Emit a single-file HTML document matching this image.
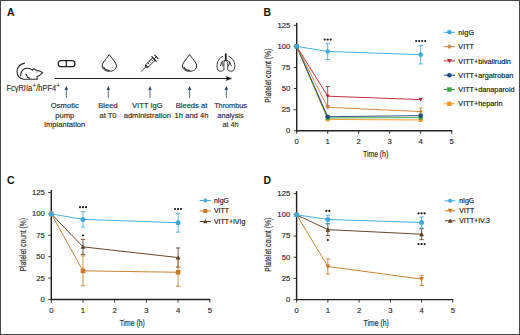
<!DOCTYPE html>
<html><head><meta charset="utf-8"><style>
html,body{margin:0;padding:0;background:#fff;}
body{width:520px;height:335px;overflow:hidden;position:relative;}
svg{position:absolute;left:0;top:0;font-family:"Liberation Sans", sans-serif;}
.frame{position:absolute;left:0;top:0;width:518px;height:333px;border:1px solid #4a4a4a;}
</style></head><body>
<svg width="520" height="335" viewBox="0 0 520 335">
<text x="0" y="0" font-size="11.6" font-weight="bold" fill="#111" transform="translate(7,16.3) scale(0.9,1)">A</text>
<line x1="54.5" y1="78.5" x2="229" y2="78.5" stroke="#222" stroke-width="1.2"/>
<path d="M225.6,75.9 L232.3,78.5 L225.6,81.1 L227,78.5 Z" fill="#1a1a1a"/>
<line x1="66.3" y1="89" x2="66.3" y2="97.9" stroke="#34506f" stroke-width="0.85"/>
<path d="M64.5,90.2 L66.3,86.1 L68.1,90.2 L66.3,89.4 Z" fill="#1f3a5a"/>
<line x1="108.3" y1="89" x2="108.3" y2="97.9" stroke="#34506f" stroke-width="0.85"/>
<path d="M106.5,90.2 L108.3,86.1 L110.1,90.2 L108.3,89.4 Z" fill="#1f3a5a"/>
<line x1="150" y1="89" x2="150" y2="97.9" stroke="#34506f" stroke-width="0.85"/>
<path d="M148.2,90.2 L150,86.1 L151.8,90.2 L150,89.4 Z" fill="#1f3a5a"/>
<line x1="189.6" y1="89" x2="189.6" y2="97.9" stroke="#34506f" stroke-width="0.85"/>
<path d="M187.79999999999998,90.2 L189.6,86.1 L191.4,90.2 L189.6,89.4 Z" fill="#1f3a5a"/>
<line x1="226.3" y1="89" x2="226.3" y2="97.9" stroke="#34506f" stroke-width="0.85"/>
<path d="M224.5,90.2 L226.3,86.1 L228.10000000000002,90.2 L226.3,89.4 Z" fill="#1f3a5a"/>
<g fill="none" stroke="#2a2a2a" stroke-width="1.1" stroke-linecap="round" stroke-linejoin="round"><path d="M24.5,63.1 C20,64.3 17,67.6 17,71.5 C17,75.6 19.6,79 23.6,79.2 L37.3,79.1 L36.9,76.7 C38.8,76 41,74.3 42.7,72.6 C40.8,71.3 38,70.6 35.4,69.9 C35,69.3 34.5,68.8 34,68.8 C33.4,69.1 33,69.6 32.6,70.1 C31.2,68.9 29.5,68.2 27.3,68.2 C23,68.2 20.6,71.5 20.7,76"/><path d="M25.8,74.1 C26.8,75 27.3,76.2 27.4,77 C28,77.6 28.7,78 29.6,78.3"/></g>
<circle cx="37" cy="72" r="0.6" fill="#444"/>
<g fill="none" stroke="#1e1e1e" stroke-width="1.25"><path d="M61.4,60.6 L72,60.6 C73.8,60.6 75,62 75,63.7 C75,65.4 73.8,66.7 72,66.7 L61.4,66.7 C59.5,66.7 58.2,65.4 58.2,63.7 C58.2,62 59.5,60.6 61.4,60.6 Z"/><line x1="66.3" y1="60.6" x2="66.3" y2="66.7"/></g>
<path d="M109.3,54.6 C107.5,57.2 105.1,59.8 103.7,62 C102.7,63.4 102.2,64.6 102.2,66 C102.2,69.2 105.39999999999999,71.3 109.3,71.3 C113.2,71.3 116.39999999999999,69.2 116.39999999999999,66 C116.39999999999999,64.6 115.89999999999999,63.4 114.89999999999999,62 C113.5,59.8 111.1,57.2 109.3,54.6 Z" fill="none" stroke="#2a2a2a" stroke-width="1" stroke-linejoin="round"/>
<path d="M103.5,66.8 C104.3,69.1 106.5,70.4 109.8,70.5" fill="none" stroke="#333" stroke-width="1.1"/>
<path d="M189.6,54.6 C187.79999999999998,57.2 185.4,59.8 184.0,62 C183.0,63.4 182.5,64.6 182.5,66 C182.5,69.2 185.7,71.3 189.6,71.3 C193.5,71.3 196.7,69.2 196.7,66 C196.7,64.6 196.2,63.4 195.2,62 C193.79999999999998,59.8 191.4,57.2 189.6,54.6 Z" fill="none" stroke="#2a2a2a" stroke-width="1" stroke-linejoin="round"/>
<path d="M183.79999999999998,66.8 C184.6,69.1 186.79999999999998,70.4 190.1,70.5" fill="none" stroke="#333" stroke-width="1.1"/>
<g fill="none" stroke="#2a2a2a" stroke-width="0.85" stroke-linecap="round" stroke-linejoin="round" transform="translate(150.3,62.6) rotate(-44)"><line x1="-12.8" y1="0" x2="-6.4" y2="0"/><path d="M-6.4,-0.6 L-4.9,-1.7 L-4.9,1.7 L-6.4,0.6 Z"/><path d="M-4.9,-1.7 L5.2,-1.7 L5.2,1.7 L-4.9,1.7 Z"/><line x1="-2" y1="-1.7" x2="-2" y2="0"/><line x1="0.4" y1="-1.7" x2="0.4" y2="0"/><line x1="2.8" y1="-1.7" x2="2.8" y2="0"/><line x1="5.2" y1="-3.1" x2="5.2" y2="3.1" stroke-width="1.2"/><line x1="5.2" y1="0" x2="8.4" y2="0"/><line x1="8.4" y1="-2.3" x2="8.4" y2="2.3" stroke-width="1.2"/></g>
<g fill="none" stroke="#2a2a2a" stroke-width="0.9" stroke-linecap="round" stroke-linejoin="round"><line x1="225.8" y1="54.3" x2="225.8" y2="59.8" stroke-width="1.9"/><path d="M222.8,56.4 C219.5,57.6 217,61.5 217,65.8 C217,69.5 218,71.2 220,71.2 C222.2,71.2 223.9,70.6 223.9,69.5 L223.9,63.2 C223.9,61.8 224.8,61 225.8,60.4"/><path d="M228.8,56.4 C232.1,57.6 234.8,61.5 234.8,65.8 C234.8,69.5 233.8,71.2 231.8,71.2 C229.6,71.2 227.7,70.6 227.7,69.5 L227.7,63.2 C227.7,61.8 226.8,61 225.8,60.4"/><path d="M225.8,59.6 L221.9,62 L220.3,65.8 M221.9,62 L223,66 M225.8,59.6 L229.7,62 L231.3,65.8 M229.7,62 L228.6,66"/></g>
<text x="0" y="0" font-size="8.0" text-anchor="middle" fill="#2a2a2a" stroke="#2a2a2a" stroke-width="0.15" transform="translate(64.8,108.30) scale(0.95,1)">Osmotic</text>
<text x="0" y="0" font-size="8.0" text-anchor="middle" fill="#2a2a2a" stroke="#2a2a2a" stroke-width="0.15" transform="translate(64.8,117.55) scale(0.95,1)">pump</text>
<text x="0" y="0" font-size="8.0" text-anchor="middle" fill="#2a2a2a" stroke="#2a2a2a" stroke-width="0.15" transform="translate(64.8,126.80) scale(0.95,1)">implantation</text>
<text x="0" y="0" font-size="8.0" text-anchor="middle" fill="#2a2a2a" stroke="#2a2a2a" stroke-width="0.15" transform="translate(108.0,108.30) scale(0.95,1)">Bleed</text>
<text x="0" y="0" font-size="8.0" text-anchor="middle" fill="#2a2a2a" stroke="#2a2a2a" stroke-width="0.15" transform="translate(108.0,117.55) scale(0.95,1)">at T0</text>
<text x="0" y="0" font-size="8.0" text-anchor="middle" fill="#2a2a2a" stroke="#2a2a2a" stroke-width="0.15" transform="translate(147.3,108.30) scale(0.95,1)">VITT IgG</text>
<text x="0" y="0" font-size="8.0" text-anchor="middle" fill="#2a2a2a" stroke="#2a2a2a" stroke-width="0.15" transform="translate(147.3,117.55) scale(0.95,1)">administration</text>
<text x="0" y="0" font-size="8.0" text-anchor="middle" fill="#2a2a2a" stroke="#2a2a2a" stroke-width="0.15" transform="translate(191.5,108.30) scale(0.95,1)">Bleeds at</text>
<text x="0" y="0" font-size="8.0" text-anchor="middle" fill="#2a2a2a" stroke="#2a2a2a" stroke-width="0.15" transform="translate(191.5,117.55) scale(0.95,1)">1h and 4h</text>
<text x="0" y="0" font-size="8.0" text-anchor="middle" fill="#2a2a2a" stroke="#2a2a2a" stroke-width="0.15" transform="translate(230.5,108.30) scale(0.91,1)">Thrombus</text>
<text x="0" y="0" font-size="8.0" text-anchor="middle" fill="#2a2a2a" stroke="#2a2a2a" stroke-width="0.15" transform="translate(230.5,117.55) scale(0.91,1)">analysis</text>
<text x="0" y="0" font-size="8.0" text-anchor="middle" fill="#2a2a2a" stroke="#2a2a2a" stroke-width="0.15" transform="translate(230.5,126.80) scale(0.91,1)">at 4h</text>
<text x="0" y="0" font-size="8.6" fill="#2a2a2a" stroke="#2a2a2a" stroke-width="0.12" transform="translate(6.4,90.9) scale(0.87,1)">Fc&#947;RIIa<tspan font-size="7" dy="-2.9" dx="0.4">+</tspan><tspan dy="2.9" dx="0.3">/hPF4</tspan><tspan font-size="7" dy="-2.9" dx="0.4">+</tspan></text>
<text x="0" y="0" font-size="11.6" font-weight="bold" fill="#111" transform="translate(263.6,16.2) scale(0.9,1)">B</text>
<line x1="296.70" y1="22.80" x2="296.70" y2="131.40" stroke="#222" stroke-width="1.45"/>
<line x1="296.10" y1="130.80" x2="452.20" y2="130.80" stroke="#222" stroke-width="1.45"/>
<line x1="293.70" y1="130.80" x2="296.70" y2="130.80" stroke="#222" stroke-width="0.9"/>
<text x="290.30" y="133.25" font-size="7.7" text-anchor="end" font-weight="normal" fill="#2a2a2a" stroke="#2a2a2a" stroke-width="0.15">0</text>
<line x1="293.70" y1="109.70" x2="296.70" y2="109.70" stroke="#222" stroke-width="0.9"/>
<text x="290.30" y="112.15" font-size="7.7" text-anchor="end" font-weight="normal" fill="#2a2a2a" stroke="#2a2a2a" stroke-width="0.15">25</text>
<line x1="293.70" y1="88.60" x2="296.70" y2="88.60" stroke="#222" stroke-width="0.9"/>
<text x="290.30" y="91.05" font-size="7.7" text-anchor="end" font-weight="normal" fill="#2a2a2a" stroke="#2a2a2a" stroke-width="0.15">50</text>
<line x1="293.70" y1="67.50" x2="296.70" y2="67.50" stroke="#222" stroke-width="0.9"/>
<text x="290.30" y="69.95" font-size="7.7" text-anchor="end" font-weight="normal" fill="#2a2a2a" stroke="#2a2a2a" stroke-width="0.15">75</text>
<line x1="293.70" y1="46.40" x2="296.70" y2="46.40" stroke="#222" stroke-width="0.9"/>
<text x="290.30" y="48.85" font-size="7.7" text-anchor="end" font-weight="normal" fill="#2a2a2a" stroke="#2a2a2a" stroke-width="0.15">100</text>
<line x1="293.70" y1="25.30" x2="296.70" y2="25.30" stroke="#222" stroke-width="0.9"/>
<text x="290.30" y="27.75" font-size="7.7" text-anchor="end" font-weight="normal" fill="#2a2a2a" stroke="#2a2a2a" stroke-width="0.15">125</text>
<line x1="296.70" y1="130.80" x2="296.70" y2="133.80" stroke="#222" stroke-width="0.9"/>
<text x="296.70" y="144.00" font-size="7.7" text-anchor="middle" font-weight="normal" fill="#2a2a2a" stroke="#2a2a2a" stroke-width="0.15">0</text>
<line x1="327.70" y1="130.80" x2="327.70" y2="133.80" stroke="#222" stroke-width="0.9"/>
<text x="327.70" y="144.00" font-size="7.7" text-anchor="middle" font-weight="normal" fill="#2a2a2a" stroke="#2a2a2a" stroke-width="0.15">1</text>
<line x1="358.70" y1="130.80" x2="358.70" y2="133.80" stroke="#222" stroke-width="0.9"/>
<text x="358.70" y="144.00" font-size="7.7" text-anchor="middle" font-weight="normal" fill="#2a2a2a" stroke="#2a2a2a" stroke-width="0.15">2</text>
<line x1="389.70" y1="130.80" x2="389.70" y2="133.80" stroke="#222" stroke-width="0.9"/>
<text x="389.70" y="144.00" font-size="7.7" text-anchor="middle" font-weight="normal" fill="#2a2a2a" stroke="#2a2a2a" stroke-width="0.15">3</text>
<line x1="420.70" y1="130.80" x2="420.70" y2="133.80" stroke="#222" stroke-width="0.9"/>
<text x="420.70" y="144.00" font-size="7.7" text-anchor="middle" font-weight="normal" fill="#2a2a2a" stroke="#2a2a2a" stroke-width="0.15">4</text>
<line x1="451.70" y1="130.80" x2="451.70" y2="133.80" stroke="#222" stroke-width="0.9"/>
<text x="451.70" y="144.00" font-size="7.7" text-anchor="middle" font-weight="normal" fill="#2a2a2a" stroke="#2a2a2a" stroke-width="0.15">5</text>
<text x="0" y="0" font-size="8.8" text-anchor="middle" fill="#1e1e1e" stroke="#1e1e1e" stroke-width="0.15" transform="translate(375.60,156.50) scale(0.78,1)">Time (h)</text>
<text x="0" y="0" font-size="8.8" text-anchor="middle" fill="#1e1e1e" stroke="#1e1e1e" stroke-width="0.15" transform="translate(270.50,75.60) rotate(-90) scale(0.78,1)">Platelet count (%)</text>
<path d="M296.70,46.40 L327.70,119.41 L420.70,120.00" fill="none" stroke="#f29a2c" stroke-width="0.95"/>
<path d="M296.70,46.40 L327.70,117.97 L420.70,117.63" fill="none" stroke="#3da43f" stroke-width="0.95"/>
<path d="M296.70,46.40 L327.70,116.71 L420.70,115.61" fill="none" stroke="#1d4c7a" stroke-width="0.95"/>
<path d="M296.70,46.40 L327.70,96.20 L420.70,99.57" fill="none" stroke="#b8283c" stroke-width="0.95"/>
<path d="M296.70,46.40 L327.70,107.34 L420.70,111.56" fill="none" stroke="#c9843e" stroke-width="0.95"/>
<path d="M296.70,46.40 L327.70,51.46 L420.70,54.67" fill="none" stroke="#3fa9dc" stroke-width="0.95"/>
<line x1="327.70" y1="86.49" x2="327.70" y2="105.90" stroke="#b8283c" stroke-width="0.85"/>
<line x1="325.50" y1="86.49" x2="329.90" y2="86.49" stroke="#b8283c" stroke-width="0.85"/>
<line x1="325.50" y1="105.90" x2="329.90" y2="105.90" stroke="#b8283c" stroke-width="0.85"/>
<line x1="420.70" y1="108.18" x2="420.70" y2="114.93" stroke="#c9843e" stroke-width="0.85"/>
<line x1="418.50" y1="108.18" x2="422.90" y2="108.18" stroke="#c9843e" stroke-width="0.85"/>
<line x1="418.50" y1="114.93" x2="422.90" y2="114.93" stroke="#c9843e" stroke-width="0.85"/>
<line x1="327.70" y1="43.45" x2="327.70" y2="59.48" stroke="#3fa9dc" stroke-width="0.85"/>
<line x1="325.50" y1="43.45" x2="329.90" y2="43.45" stroke="#3fa9dc" stroke-width="0.85"/>
<line x1="325.50" y1="59.48" x2="329.90" y2="59.48" stroke="#3fa9dc" stroke-width="0.85"/>
<line x1="420.70" y1="45.39" x2="420.70" y2="63.96" stroke="#3fa9dc" stroke-width="0.85"/>
<line x1="418.50" y1="45.39" x2="422.90" y2="45.39" stroke="#3fa9dc" stroke-width="0.85"/>
<line x1="418.50" y1="63.96" x2="422.90" y2="63.96" stroke="#3fa9dc" stroke-width="0.85"/>
<rect x="294.70" y="44.40" width="4.00" height="4.00" fill="#f29a2c"/>
<rect x="325.70" y="117.41" width="4.00" height="4.00" fill="#f29a2c"/>
<rect x="418.70" y="118.00" width="4.00" height="4.00" fill="#f29a2c"/>
<rect x="294.70" y="44.40" width="4.00" height="4.00" fill="#3da43f"/>
<rect x="325.70" y="115.97" width="4.00" height="4.00" fill="#3da43f"/>
<rect x="418.70" y="115.63" width="4.00" height="4.00" fill="#3da43f"/>
<circle cx="296.70" cy="46.40" r="2.30" fill="#1d4c7a"/>
<circle cx="327.70" cy="116.71" r="2.30" fill="#1d4c7a"/>
<circle cx="420.70" cy="115.61" r="2.30" fill="#1d4c7a"/>
<path d="M294.54,44.60 L298.86,44.60 L296.70,48.56 Z" fill="#b8283c"/>
<path d="M325.54,94.40 L329.86,94.40 L327.70,98.36 Z" fill="#b8283c"/>
<path d="M418.54,97.77 L422.86,97.77 L420.70,101.73 Z" fill="#b8283c"/>
<path d="M296.70,44.36 L298.74,46.40 L296.70,48.44 L294.66,46.40 Z" fill="#c9843e"/>
<path d="M327.70,105.30 L329.74,107.34 L327.70,109.38 L325.66,107.34 Z" fill="#c9843e"/>
<path d="M420.70,109.52 L422.74,111.56 L420.70,113.60 L418.66,111.56 Z" fill="#c9843e"/>
<circle cx="296.70" cy="46.40" r="2.30" fill="#3fa9dc"/>
<circle cx="327.70" cy="51.46" r="2.30" fill="#3fa9dc"/>
<circle cx="420.70" cy="54.67" r="2.30" fill="#3fa9dc"/>
<circle cx="324.70" cy="39.60" r="1.1" fill="#1a1a1a"/>
<circle cx="327.70" cy="39.60" r="1.1" fill="#1a1a1a"/>
<circle cx="330.70" cy="39.60" r="1.1" fill="#1a1a1a"/>
<circle cx="416.20" cy="41.00" r="1.1" fill="#1a1a1a"/>
<circle cx="419.20" cy="41.00" r="1.1" fill="#1a1a1a"/>
<circle cx="422.20" cy="41.00" r="1.1" fill="#1a1a1a"/>
<circle cx="425.20" cy="41.00" r="1.1" fill="#1a1a1a"/>
<line x1="443.80" y1="32.30" x2="455.00" y2="32.30" stroke="#3fa9dc" stroke-width="1"/>
<circle cx="449.40" cy="32.30" r="2.30" fill="#3fa9dc"/>
<text x="458.30" y="34.91" font-size="7.25" text-anchor="start" font-weight="normal" fill="#222" stroke="#222" stroke-width="0.18">nIgG</text>
<line x1="443.80" y1="46.60" x2="455.00" y2="46.60" stroke="#c9843e" stroke-width="1"/>
<path d="M449.40,44.20 L451.80,46.60 L449.40,49.00 L447.00,46.60 Z" fill="#c9843e"/>
<text x="458.30" y="49.21" font-size="7.25" text-anchor="start" font-weight="normal" fill="#222" stroke="#222" stroke-width="0.18">VITT</text>
<line x1="443.80" y1="60.90" x2="455.00" y2="60.90" stroke="#b8283c" stroke-width="1"/>
<path d="M447.00,58.90 L451.80,58.90 L449.40,63.30 Z" fill="#b8283c"/>
<text x="458.30" y="63.51" font-size="7.25" text-anchor="start" font-weight="normal" fill="#222" stroke="#222" stroke-width="0.18">VITT+bivalirudin</text>
<line x1="443.80" y1="75.20" x2="455.00" y2="75.20" stroke="#1d4c7a" stroke-width="1"/>
<circle cx="449.40" cy="75.20" r="2.30" fill="#1d4c7a"/>
<text x="458.30" y="77.81" font-size="7.25" text-anchor="start" font-weight="normal" fill="#222" stroke="#222" stroke-width="0.18">VITT+argatroban</text>
<line x1="443.80" y1="89.50" x2="455.00" y2="89.50" stroke="#3da43f" stroke-width="1"/>
<rect x="447.20" y="87.30" width="4.40" height="4.40" fill="#3da43f"/>
<text x="458.30" y="92.11" font-size="7.25" text-anchor="start" font-weight="normal" fill="#222" stroke="#222" stroke-width="0.18">VITT+danaparoid</text>
<line x1="443.80" y1="103.80" x2="455.00" y2="103.80" stroke="#f29a2c" stroke-width="1"/>
<rect x="447.20" y="101.60" width="4.40" height="4.40" fill="#f29a2c"/>
<text x="458.30" y="106.41" font-size="7.25" text-anchor="start" font-weight="normal" fill="#222" stroke="#222" stroke-width="0.18">VITT+heparin</text>
<text x="0" y="0" font-size="11.6" font-weight="bold" fill="#111" transform="translate(7.1,184.4) scale(0.9,1)">C</text>
<line x1="51.30" y1="190.00" x2="51.30" y2="300.10" stroke="#222" stroke-width="1.45"/>
<line x1="50.70" y1="299.50" x2="210.30" y2="299.50" stroke="#222" stroke-width="1.45"/>
<line x1="48.30" y1="299.50" x2="51.30" y2="299.50" stroke="#222" stroke-width="0.9"/>
<text x="44.90" y="301.95" font-size="7.7" text-anchor="end" font-weight="normal" fill="#2a2a2a" stroke="#2a2a2a" stroke-width="0.15">0</text>
<line x1="48.30" y1="278.10" x2="51.30" y2="278.10" stroke="#222" stroke-width="0.9"/>
<text x="44.90" y="280.55" font-size="7.7" text-anchor="end" font-weight="normal" fill="#2a2a2a" stroke="#2a2a2a" stroke-width="0.15">25</text>
<line x1="48.30" y1="256.70" x2="51.30" y2="256.70" stroke="#222" stroke-width="0.9"/>
<text x="44.90" y="259.15" font-size="7.7" text-anchor="end" font-weight="normal" fill="#2a2a2a" stroke="#2a2a2a" stroke-width="0.15">50</text>
<line x1="48.30" y1="235.30" x2="51.30" y2="235.30" stroke="#222" stroke-width="0.9"/>
<text x="44.90" y="237.75" font-size="7.7" text-anchor="end" font-weight="normal" fill="#2a2a2a" stroke="#2a2a2a" stroke-width="0.15">75</text>
<line x1="48.30" y1="213.90" x2="51.30" y2="213.90" stroke="#222" stroke-width="0.9"/>
<text x="44.90" y="216.35" font-size="7.7" text-anchor="end" font-weight="normal" fill="#2a2a2a" stroke="#2a2a2a" stroke-width="0.15">100</text>
<line x1="48.30" y1="192.50" x2="51.30" y2="192.50" stroke="#222" stroke-width="0.9"/>
<text x="44.90" y="194.95" font-size="7.7" text-anchor="end" font-weight="normal" fill="#2a2a2a" stroke="#2a2a2a" stroke-width="0.15">125</text>
<line x1="51.30" y1="299.50" x2="51.30" y2="302.50" stroke="#222" stroke-width="0.9"/>
<text x="51.30" y="312.70" font-size="7.7" text-anchor="middle" font-weight="normal" fill="#2a2a2a" stroke="#2a2a2a" stroke-width="0.15">0</text>
<line x1="83.00" y1="299.50" x2="83.00" y2="302.50" stroke="#222" stroke-width="0.9"/>
<text x="83.00" y="312.70" font-size="7.7" text-anchor="middle" font-weight="normal" fill="#2a2a2a" stroke="#2a2a2a" stroke-width="0.15">1</text>
<line x1="114.70" y1="299.50" x2="114.70" y2="302.50" stroke="#222" stroke-width="0.9"/>
<text x="114.70" y="312.70" font-size="7.7" text-anchor="middle" font-weight="normal" fill="#2a2a2a" stroke="#2a2a2a" stroke-width="0.15">2</text>
<line x1="146.40" y1="299.50" x2="146.40" y2="302.50" stroke="#222" stroke-width="0.9"/>
<text x="146.40" y="312.70" font-size="7.7" text-anchor="middle" font-weight="normal" fill="#2a2a2a" stroke="#2a2a2a" stroke-width="0.15">3</text>
<line x1="178.10" y1="299.50" x2="178.10" y2="302.50" stroke="#222" stroke-width="0.9"/>
<text x="178.10" y="312.70" font-size="7.7" text-anchor="middle" font-weight="normal" fill="#2a2a2a" stroke="#2a2a2a" stroke-width="0.15">4</text>
<line x1="209.80" y1="299.50" x2="209.80" y2="302.50" stroke="#222" stroke-width="0.9"/>
<text x="209.80" y="312.70" font-size="7.7" text-anchor="middle" font-weight="normal" fill="#2a2a2a" stroke="#2a2a2a" stroke-width="0.15">5</text>
<text x="0" y="0" font-size="8.5" text-anchor="middle" fill="#1e1e1e" stroke="#1e1e1e" stroke-width="0.15" transform="translate(132.20,325.60) scale(0.8,1)">Time (h)</text>
<text x="0" y="0" font-size="8.5" text-anchor="middle" fill="#1e1e1e" stroke="#1e1e1e" stroke-width="0.15" transform="translate(25.80,244.70) rotate(-90) scale(0.8,1)">Platelet count (%)</text>
<path d="M51.30,213.90 L83.00,246.86 L178.10,257.56" fill="none" stroke="#5b3f24" stroke-width="0.95"/>
<path d="M51.30,213.90 L83.00,270.82 L178.10,272.28" fill="none" stroke="#c57b28" stroke-width="0.95"/>
<path d="M51.30,213.90 L83.00,219.38 L178.10,222.72" fill="none" stroke="#3fa9dc" stroke-width="0.95"/>
<line x1="83.00" y1="239.32" x2="83.00" y2="254.39" stroke="#5b3f24" stroke-width="0.85"/>
<line x1="80.80" y1="239.32" x2="85.20" y2="239.32" stroke="#5b3f24" stroke-width="0.85"/>
<line x1="80.80" y1="254.39" x2="85.20" y2="254.39" stroke="#5b3f24" stroke-width="0.85"/>
<line x1="178.10" y1="247.97" x2="178.10" y2="267.14" stroke="#5b3f24" stroke-width="0.85"/>
<line x1="175.90" y1="247.97" x2="180.30" y2="247.97" stroke="#5b3f24" stroke-width="0.85"/>
<line x1="175.90" y1="267.14" x2="180.30" y2="267.14" stroke="#5b3f24" stroke-width="0.85"/>
<line x1="83.00" y1="255.84" x2="83.00" y2="285.80" stroke="#c57b28" stroke-width="0.85"/>
<line x1="80.80" y1="255.84" x2="85.20" y2="255.84" stroke="#c57b28" stroke-width="0.85"/>
<line x1="80.80" y1="285.80" x2="85.20" y2="285.80" stroke="#c57b28" stroke-width="0.85"/>
<line x1="178.10" y1="258.33" x2="178.10" y2="286.23" stroke="#c57b28" stroke-width="0.85"/>
<line x1="175.90" y1="258.33" x2="180.30" y2="258.33" stroke="#c57b28" stroke-width="0.85"/>
<line x1="175.90" y1="286.23" x2="180.30" y2="286.23" stroke="#c57b28" stroke-width="0.85"/>
<line x1="83.00" y1="211.67" x2="83.00" y2="227.08" stroke="#3fa9dc" stroke-width="0.85"/>
<line x1="80.80" y1="211.67" x2="85.20" y2="211.67" stroke="#3fa9dc" stroke-width="0.85"/>
<line x1="80.80" y1="227.08" x2="85.20" y2="227.08" stroke="#3fa9dc" stroke-width="0.85"/>
<line x1="178.10" y1="213.30" x2="178.10" y2="232.13" stroke="#3fa9dc" stroke-width="0.85"/>
<line x1="175.90" y1="213.30" x2="180.30" y2="213.30" stroke="#3fa9dc" stroke-width="0.85"/>
<line x1="175.90" y1="232.13" x2="180.30" y2="232.13" stroke="#3fa9dc" stroke-width="0.85"/>
<path d="M48.90,215.90 L53.70,215.90 L51.30,211.50 Z" fill="#5b3f24"/>
<path d="M80.60,248.86 L85.40,248.86 L83.00,244.46 Z" fill="#5b3f24"/>
<path d="M175.70,259.56 L180.50,259.56 L178.10,255.16 Z" fill="#5b3f24"/>
<rect x="49.00" y="211.60" width="4.60" height="4.60" fill="#c57b28"/>
<rect x="80.70" y="268.52" width="4.60" height="4.60" fill="#c57b28"/>
<rect x="175.80" y="269.98" width="4.60" height="4.60" fill="#c57b28"/>
<circle cx="51.30" cy="213.90" r="2.50" fill="#3fa9dc"/>
<circle cx="83.00" cy="219.38" r="2.50" fill="#3fa9dc"/>
<circle cx="178.10" cy="222.72" r="2.50" fill="#3fa9dc"/>
<circle cx="80.00" cy="207.20" r="1.1" fill="#1a1a1a"/>
<circle cx="83.00" cy="207.20" r="1.1" fill="#1a1a1a"/>
<circle cx="86.00" cy="207.20" r="1.1" fill="#1a1a1a"/>
<circle cx="175.10" cy="209.00" r="1.1" fill="#1a1a1a"/>
<circle cx="178.10" cy="209.00" r="1.1" fill="#1a1a1a"/>
<circle cx="181.10" cy="209.00" r="1.1" fill="#1a1a1a"/>
<circle cx="83.00" cy="235.50" r="1.1" fill="#1a1a1a"/>
<line x1="199.70" y1="200.50" x2="210.90" y2="200.50" stroke="#3fa9dc" stroke-width="1"/>
<circle cx="205.30" cy="200.50" r="2.00" fill="#3fa9dc"/>
<text x="214.00" y="202.98" font-size="6.9" text-anchor="start" font-weight="normal" fill="#222" stroke="#222" stroke-width="0.18">nIgG</text>
<line x1="199.70" y1="211.00" x2="210.90" y2="211.00" stroke="#c57b28" stroke-width="1"/>
<rect x="203.30" y="209.00" width="4.00" height="4.00" fill="#c57b28"/>
<text x="214.00" y="213.48" font-size="6.9" text-anchor="start" font-weight="normal" fill="#222" stroke="#222" stroke-width="0.18">VITT</text>
<line x1="199.70" y1="221.50" x2="210.90" y2="221.50" stroke="#5b3f24" stroke-width="1"/>
<path d="M203.14,223.30 L207.46,223.30 L205.30,219.34 Z" fill="#5b3f24"/>
<text x="214.00" y="223.98" font-size="6.9" text-anchor="start" font-weight="normal" fill="#222" stroke="#222" stroke-width="0.18">VITT+IVIg</text>
<text x="0" y="0" font-size="11.6" font-weight="bold" fill="#111" transform="translate(263.6,184.2) scale(0.9,1)">D</text>
<line x1="296.60" y1="191.10" x2="296.60" y2="300.20" stroke="#222" stroke-width="1.45"/>
<line x1="296.00" y1="299.60" x2="453.35" y2="299.60" stroke="#222" stroke-width="1.45"/>
<line x1="293.60" y1="299.60" x2="296.60" y2="299.60" stroke="#222" stroke-width="0.9"/>
<text x="290.20" y="302.05" font-size="7.7" text-anchor="end" font-weight="normal" fill="#2a2a2a" stroke="#2a2a2a" stroke-width="0.15">0</text>
<line x1="293.60" y1="278.40" x2="296.60" y2="278.40" stroke="#222" stroke-width="0.9"/>
<text x="290.20" y="280.85" font-size="7.7" text-anchor="end" font-weight="normal" fill="#2a2a2a" stroke="#2a2a2a" stroke-width="0.15">25</text>
<line x1="293.60" y1="257.20" x2="296.60" y2="257.20" stroke="#222" stroke-width="0.9"/>
<text x="290.20" y="259.65" font-size="7.7" text-anchor="end" font-weight="normal" fill="#2a2a2a" stroke="#2a2a2a" stroke-width="0.15">50</text>
<line x1="293.60" y1="236.00" x2="296.60" y2="236.00" stroke="#222" stroke-width="0.9"/>
<text x="290.20" y="238.45" font-size="7.7" text-anchor="end" font-weight="normal" fill="#2a2a2a" stroke="#2a2a2a" stroke-width="0.15">75</text>
<line x1="293.60" y1="214.80" x2="296.60" y2="214.80" stroke="#222" stroke-width="0.9"/>
<text x="290.20" y="217.25" font-size="7.7" text-anchor="end" font-weight="normal" fill="#2a2a2a" stroke="#2a2a2a" stroke-width="0.15">100</text>
<line x1="293.60" y1="193.60" x2="296.60" y2="193.60" stroke="#222" stroke-width="0.9"/>
<text x="290.20" y="196.05" font-size="7.7" text-anchor="end" font-weight="normal" fill="#2a2a2a" stroke="#2a2a2a" stroke-width="0.15">125</text>
<line x1="296.60" y1="299.60" x2="296.60" y2="302.60" stroke="#222" stroke-width="0.9"/>
<text x="296.60" y="312.80" font-size="7.7" text-anchor="middle" font-weight="normal" fill="#2a2a2a" stroke="#2a2a2a" stroke-width="0.15">0</text>
<line x1="327.85" y1="299.60" x2="327.85" y2="302.60" stroke="#222" stroke-width="0.9"/>
<text x="327.85" y="312.80" font-size="7.7" text-anchor="middle" font-weight="normal" fill="#2a2a2a" stroke="#2a2a2a" stroke-width="0.15">1</text>
<line x1="359.10" y1="299.60" x2="359.10" y2="302.60" stroke="#222" stroke-width="0.9"/>
<text x="359.10" y="312.80" font-size="7.7" text-anchor="middle" font-weight="normal" fill="#2a2a2a" stroke="#2a2a2a" stroke-width="0.15">2</text>
<line x1="390.35" y1="299.60" x2="390.35" y2="302.60" stroke="#222" stroke-width="0.9"/>
<text x="390.35" y="312.80" font-size="7.7" text-anchor="middle" font-weight="normal" fill="#2a2a2a" stroke="#2a2a2a" stroke-width="0.15">3</text>
<line x1="421.60" y1="299.60" x2="421.60" y2="302.60" stroke="#222" stroke-width="0.9"/>
<text x="421.60" y="312.80" font-size="7.7" text-anchor="middle" font-weight="normal" fill="#2a2a2a" stroke="#2a2a2a" stroke-width="0.15">4</text>
<line x1="452.85" y1="299.60" x2="452.85" y2="302.60" stroke="#222" stroke-width="0.9"/>
<text x="452.85" y="312.80" font-size="7.7" text-anchor="middle" font-weight="normal" fill="#2a2a2a" stroke="#2a2a2a" stroke-width="0.15">5</text>
<text x="0" y="0" font-size="8.8" text-anchor="middle" fill="#1e1e1e" stroke="#1e1e1e" stroke-width="0.15" transform="translate(376.20,326.00) scale(0.78,1)">Time (h)</text>
<text x="0" y="0" font-size="8.8" text-anchor="middle" fill="#1e1e1e" stroke="#1e1e1e" stroke-width="0.15" transform="translate(270.50,244.70) rotate(-90) scale(0.78,1)">Platelet count (%)</text>
<path d="M296.60,214.80 L327.85,229.64 L421.60,234.22" fill="none" stroke="#5b3f24" stroke-width="0.95"/>
<path d="M296.60,214.80 L327.85,266.53 L421.60,279.08" fill="none" stroke="#c57b28" stroke-width="0.95"/>
<path d="M296.60,214.80 L327.85,219.46 L421.60,222.52" fill="none" stroke="#3fa9dc" stroke-width="0.95"/>
<line x1="327.85" y1="223.70" x2="327.85" y2="235.58" stroke="#5b3f24" stroke-width="0.85"/>
<line x1="325.65" y1="223.70" x2="330.05" y2="223.70" stroke="#5b3f24" stroke-width="0.85"/>
<line x1="325.65" y1="235.58" x2="330.05" y2="235.58" stroke="#5b3f24" stroke-width="0.85"/>
<line x1="421.60" y1="228.71" x2="421.60" y2="239.73" stroke="#5b3f24" stroke-width="0.85"/>
<line x1="419.40" y1="228.71" x2="423.80" y2="228.71" stroke="#5b3f24" stroke-width="0.85"/>
<line x1="419.40" y1="239.73" x2="423.80" y2="239.73" stroke="#5b3f24" stroke-width="0.85"/>
<line x1="327.85" y1="258.90" x2="327.85" y2="274.16" stroke="#c57b28" stroke-width="0.85"/>
<line x1="325.65" y1="258.90" x2="330.05" y2="258.90" stroke="#c57b28" stroke-width="0.85"/>
<line x1="325.65" y1="274.16" x2="330.05" y2="274.16" stroke="#c57b28" stroke-width="0.85"/>
<line x1="421.60" y1="275.26" x2="421.60" y2="285.44" stroke="#c57b28" stroke-width="0.85"/>
<line x1="419.40" y1="275.26" x2="423.80" y2="275.26" stroke="#c57b28" stroke-width="0.85"/>
<line x1="419.40" y1="285.44" x2="423.80" y2="285.44" stroke="#c57b28" stroke-width="0.85"/>
<line x1="327.85" y1="215.22" x2="327.85" y2="223.70" stroke="#3fa9dc" stroke-width="0.85"/>
<line x1="325.65" y1="215.22" x2="330.05" y2="215.22" stroke="#3fa9dc" stroke-width="0.85"/>
<line x1="325.65" y1="223.70" x2="330.05" y2="223.70" stroke="#3fa9dc" stroke-width="0.85"/>
<line x1="421.60" y1="217.00" x2="421.60" y2="228.03" stroke="#3fa9dc" stroke-width="0.85"/>
<line x1="419.40" y1="217.00" x2="423.80" y2="217.00" stroke="#3fa9dc" stroke-width="0.85"/>
<line x1="419.40" y1="228.03" x2="423.80" y2="228.03" stroke="#3fa9dc" stroke-width="0.85"/>
<path d="M294.20,216.80 L299.00,216.80 L296.60,212.40 Z" fill="#5b3f24"/>
<path d="M325.45,231.64 L330.25,231.64 L327.85,227.24 Z" fill="#5b3f24"/>
<path d="M419.20,236.22 L424.00,236.22 L421.60,231.82 Z" fill="#5b3f24"/>
<path d="M294.20,212.80 L299.00,212.80 L296.60,217.20 Z" fill="#c57b28"/>
<path d="M325.45,264.53 L330.25,264.53 L327.85,268.93 Z" fill="#c57b28"/>
<path d="M419.20,277.08 L424.00,277.08 L421.60,281.48 Z" fill="#c57b28"/>
<circle cx="296.60" cy="214.80" r="2.50" fill="#3fa9dc"/>
<circle cx="327.85" cy="219.46" r="2.50" fill="#3fa9dc"/>
<circle cx="421.60" cy="222.52" r="2.50" fill="#3fa9dc"/>
<circle cx="326.35" cy="210.90" r="1.1" fill="#1a1a1a"/>
<circle cx="329.35" cy="210.90" r="1.1" fill="#1a1a1a"/>
<circle cx="418.60" cy="213.30" r="1.1" fill="#1a1a1a"/>
<circle cx="421.60" cy="213.30" r="1.1" fill="#1a1a1a"/>
<circle cx="424.60" cy="213.30" r="1.1" fill="#1a1a1a"/>
<circle cx="327.85" cy="240.00" r="1.1" fill="#1a1a1a"/>
<circle cx="418.60" cy="244.10" r="1.1" fill="#1a1a1a"/>
<circle cx="421.60" cy="244.10" r="1.1" fill="#1a1a1a"/>
<circle cx="424.60" cy="244.10" r="1.1" fill="#1a1a1a"/>
<line x1="444.90" y1="200.80" x2="455.40" y2="200.80" stroke="#3fa9dc" stroke-width="1"/>
<circle cx="450.15" cy="200.80" r="2.00" fill="#3fa9dc"/>
<text x="459.20" y="203.28" font-size="6.9" text-anchor="start" font-weight="normal" fill="#222" stroke="#222" stroke-width="0.18">nIgG</text>
<line x1="444.90" y1="210.80" x2="455.40" y2="210.80" stroke="#c57b28" stroke-width="1"/>
<path d="M447.75,208.80 L452.55,208.80 L450.15,213.20 Z" fill="#c57b28"/>
<text x="459.20" y="213.28" font-size="6.9" text-anchor="start" font-weight="normal" fill="#222" stroke="#222" stroke-width="0.18">VITT</text>
<line x1="444.90" y1="220.80" x2="455.40" y2="220.80" stroke="#5b3f24" stroke-width="1"/>
<path d="M447.75,222.80 L452.55,222.80 L450.15,218.40 Z" fill="#5b3f24"/>
<text x="459.20" y="223.28" font-size="6.9" text-anchor="start" font-weight="normal" fill="#222" stroke="#222" stroke-width="0.18">VITT+IV.3</text>
</svg>
<div class="frame"></div>
</body></html>
